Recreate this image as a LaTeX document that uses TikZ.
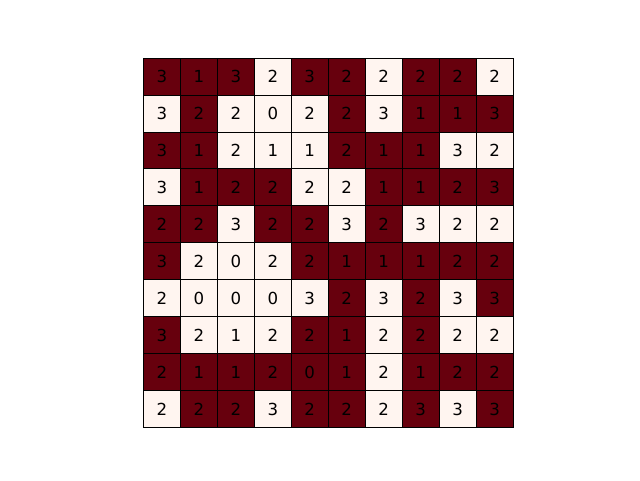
\documentclass[tikz,border=0pt]{standalone}
\usepackage{fontspec}
\setmainfont{DejaVu Sans}
\definecolor{darkc}{HTML}{67000D}
\definecolor{lightc}{HTML}{FFF5F0}
\begin{document}
\begin{tikzpicture}[x=1pt,y=-1pt,
  cellbase/.style={draw=black,line width=0.8pt,minimum size=36.95pt,inner sep=0pt,font=\fontsize{16.6}{18}\selectfont,text=black},
  cellD/.style={cellbase,fill=darkc},
  cellW/.style={cellbase,fill=lightc}]
\useasboundingbox (0,0) rectangle (640,480);
\foreach \rowlist [count=\r from 0] in {
  {3/D,1/D,3/D,2/W,3/D,2/D,2/W,2/D,2/D,2/W},
  {3/W,2/D,2/W,0/W,2/W,2/D,3/W,1/D,1/D,3/D},
  {3/D,1/D,2/W,1/W,1/W,2/D,1/D,1/D,3/W,2/W},
  {3/W,1/D,2/D,2/D,2/W,2/W,1/D,1/D,2/D,3/D},
  {2/D,2/D,3/W,2/D,2/D,3/W,2/D,3/W,2/W,2/W},
  {3/D,2/W,0/W,2/W,2/D,1/D,1/D,1/D,2/D,2/D},
  {2/W,0/W,0/W,0/W,3/W,2/D,3/W,2/D,3/W,3/D},
  {3/D,2/W,1/W,2/W,2/D,1/D,2/W,2/D,2/W,2/W},
  {2/D,1/D,1/D,2/D,0/D,1/D,2/W,1/D,2/D,2/D},
  {2/W,2/D,2/D,3/W,2/D,2/D,2/W,3/D,3/W,3/D}}{
  \foreach \n/\k [count=\c from 0] in \rowlist {
    \node[cell\k] (cell-\r-\c) at ({143.5+36.95*(\c+0.5)},{58+36.95*(\r+0.5)}) {\n};
  }
}
\end{tikzpicture}
\end{document}
